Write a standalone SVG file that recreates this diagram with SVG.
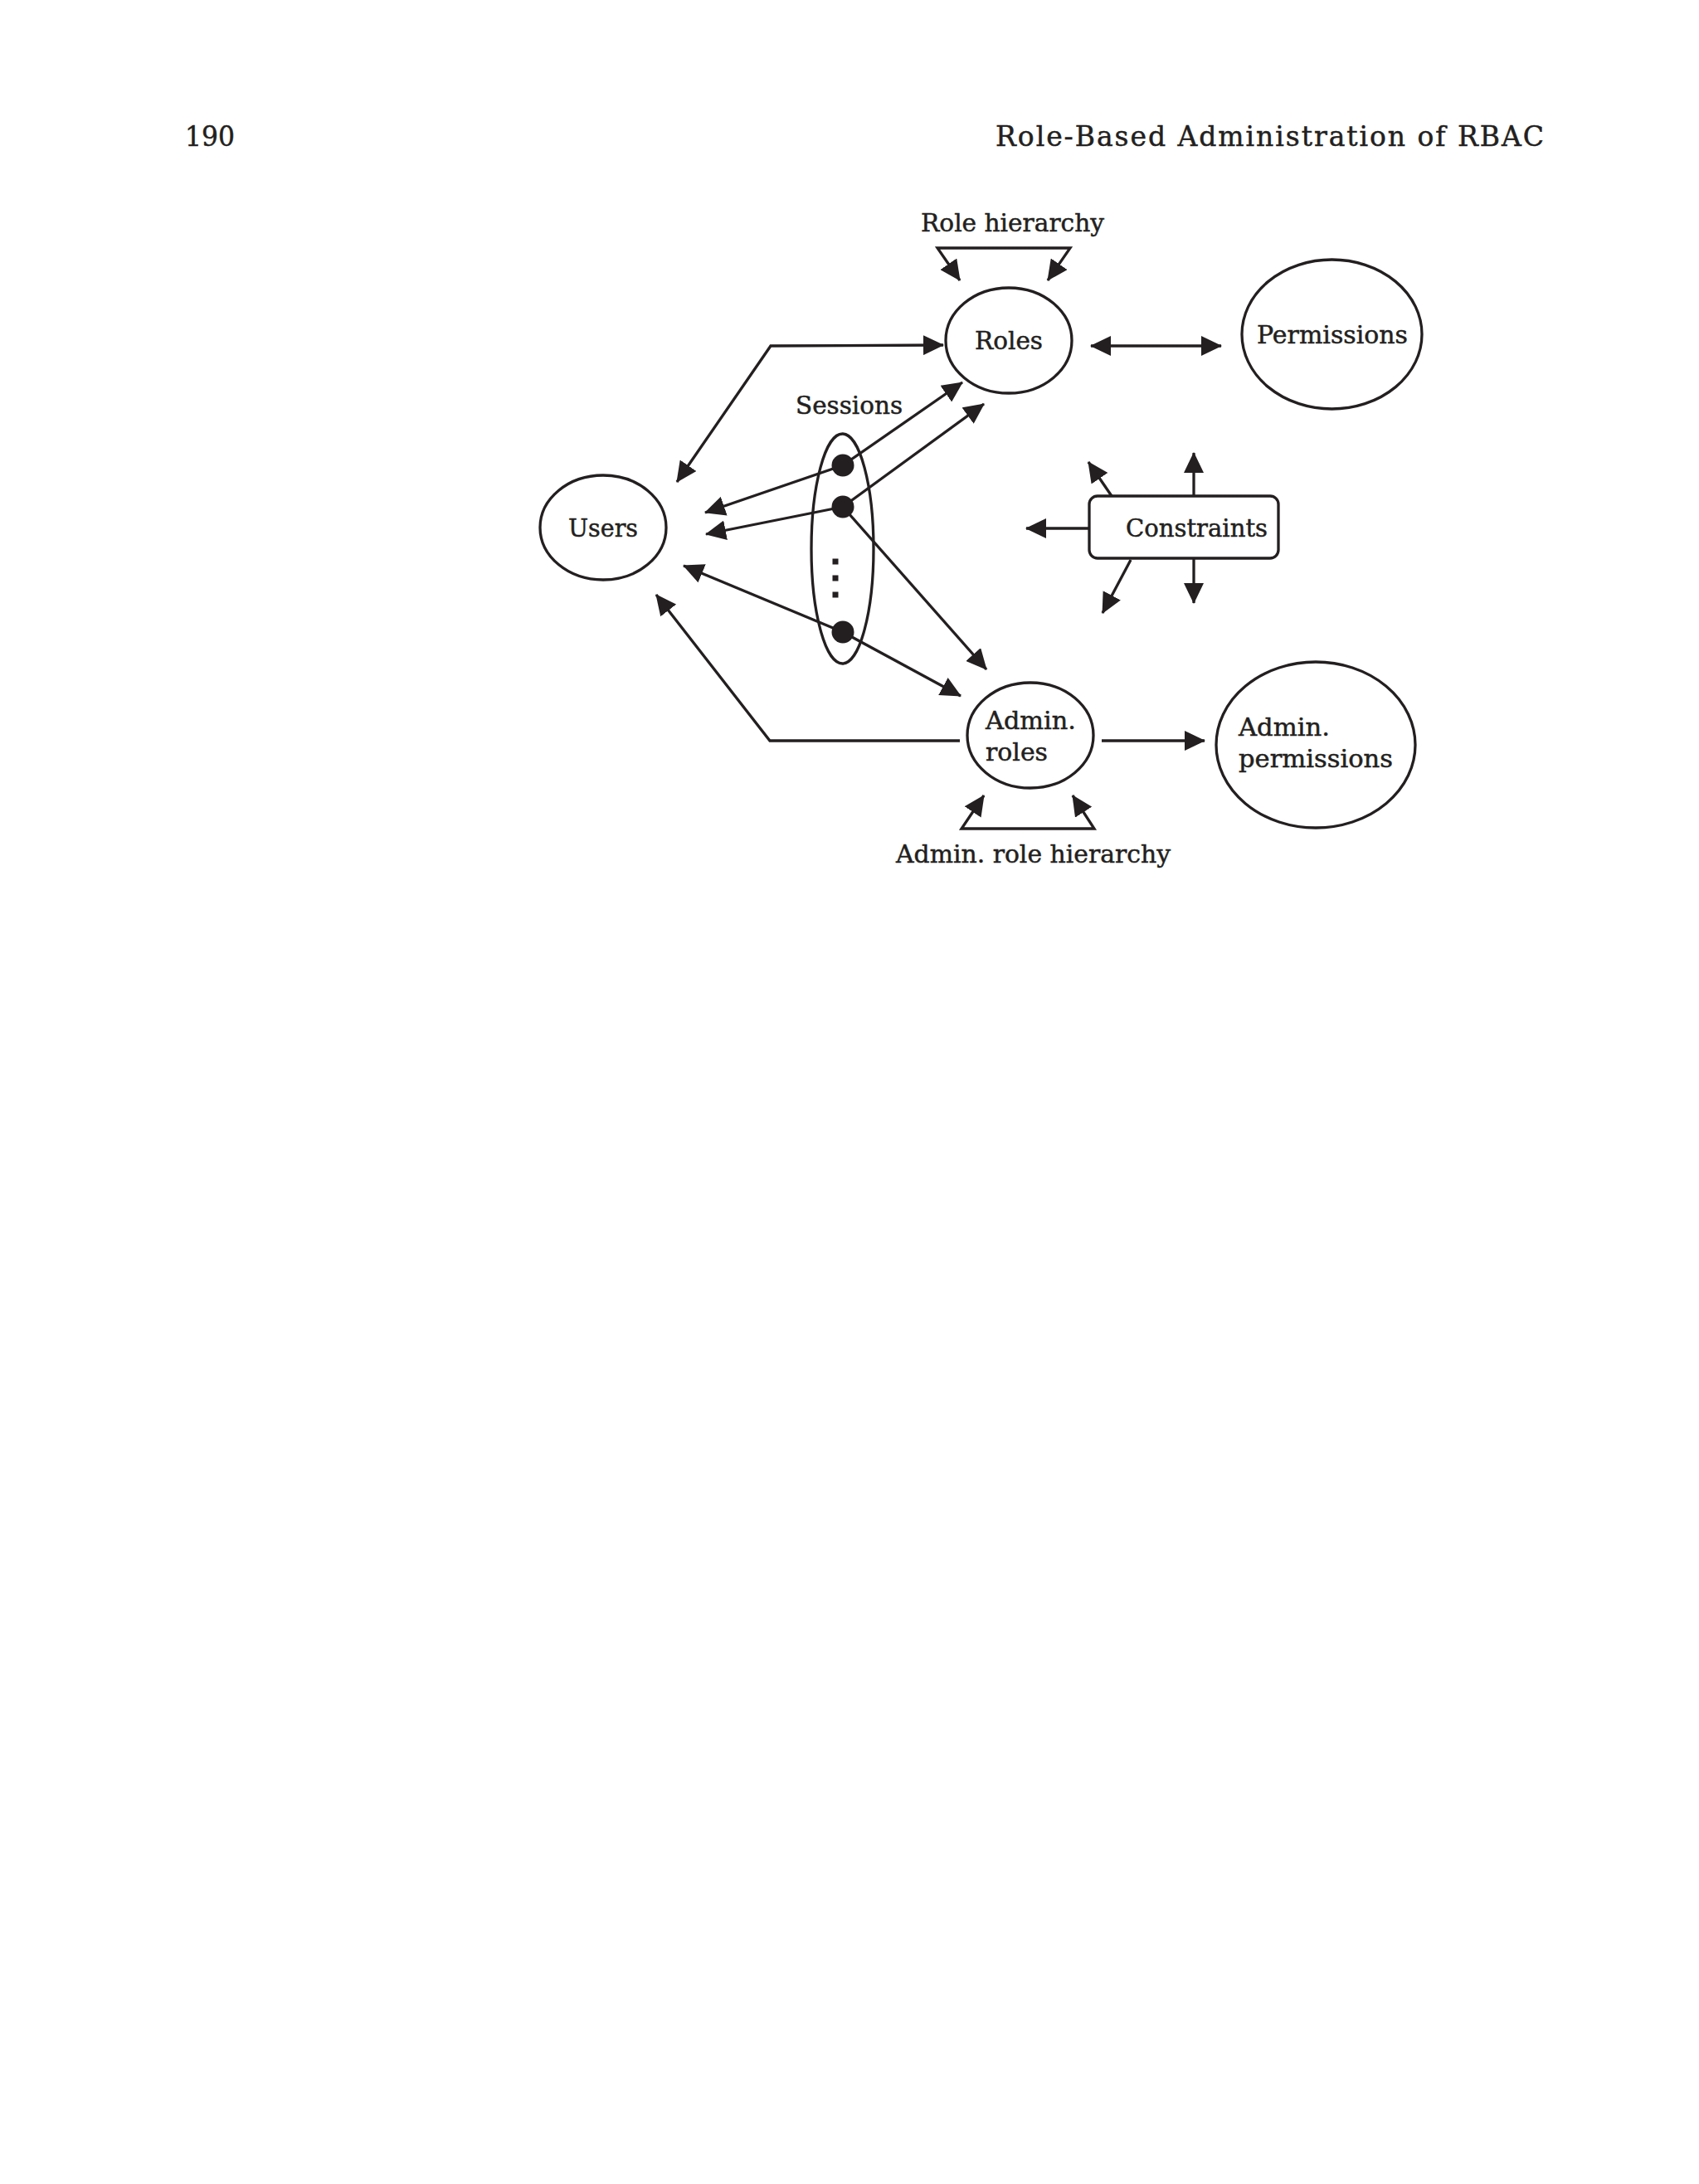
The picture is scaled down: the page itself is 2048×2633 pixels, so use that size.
<svg xmlns="http://www.w3.org/2000/svg" width="2048" height="2633" viewBox="0 0 2048 2633">
<style>
  text { font-family: "DejaVu Serif", "Liberation Serif", serif; fill: #231f20; stroke: #231f20; stroke-width: 0.5; }
  .lbl { font-size: 29px; }
  .hdr { font-size: 33px; }
  .shape { fill: none; stroke: #231f20; stroke-width: 3.3; }
  .conn { fill: none; stroke: #231f20; stroke-width: 3.3; stroke-linejoin: miter; }
  .dot { fill: #231f20; }
</style>
<defs>
  <marker id="ah" markerUnits="userSpaceOnUse" markerWidth="26" markerHeight="24" refX="24" refY="12" orient="auto-start-reverse">
    <path d="M0,0 L25,12 L0,24 z" fill="#231f20"/>
  </marker>
</defs>
<rect width="2048" height="2633" fill="#ffffff"/>

<g id="header">
  <text class="hdr" x="223" y="176" textLength="60" lengthAdjust="spacingAndGlyphs">190</text>
  <text class="hdr" x="1200" y="176" textLength="661" lengthAdjust="spacing">Role-Based Administration of RBAC</text>
</g>

<g id="connectors">
  <path class="conn" d="M816,581 L929,417 L1137,416" marker-start="url(#ah)" marker-end="url(#ah)"/>
  <path class="conn" d="M1315,417 L1472,417" marker-start="url(#ah)" marker-end="url(#ah)"/>
  <path class="conn" d="M1016,561 L1160,461" marker-end="url(#ah)"/>
  <path class="conn" d="M1016,611 L1186,487" marker-end="url(#ah)"/>
  <path class="conn" d="M1016,561 L850,618" marker-end="url(#ah)"/>
  <path class="conn" d="M1016,611 L851,644" marker-end="url(#ah)"/>
  <path class="conn" d="M1016,611 L1189,807" marker-end="url(#ah)"/>
  <path class="conn" d="M1016,762 L824,682" marker-end="url(#ah)"/>
  <path class="conn" d="M1016,762 L1158,839" marker-end="url(#ah)"/>
  <path class="conn" d="M1157,893 L928,893 L791,717" marker-end="url(#ah)"/>
  <path class="conn" d="M1328,893 L1452,893" marker-end="url(#ah)"/>
  <path class="conn" d="M1157,338 L1130,299 L1290,299 L1263,338" marker-start="url(#ah)" marker-end="url(#ah)"/>
  <path class="conn" d="M1186,959 L1159,999 L1319,999 L1293,959" marker-start="url(#ah)" marker-end="url(#ah)"/>
  <path class="conn" d="M1313,637 L1237,637" marker-end="url(#ah)"/>
  <path class="conn" d="M1340,598 L1312,557" marker-end="url(#ah)"/>
  <path class="conn" d="M1439,598 L1439,546" marker-end="url(#ah)"/>
  <path class="conn" d="M1439,673 L1439,727" marker-end="url(#ah)"/>
  <path class="conn" d="M1363,675 L1329,739" marker-end="url(#ah)"/>
</g>

<g id="users">
  <ellipse class="shape" cx="727" cy="636" rx="76" ry="63"/>
  <text class="lbl" x="685" y="647" textLength="84" lengthAdjust="spacingAndGlyphs">Users</text>
</g>

<g id="roles">
  <ellipse class="shape" cx="1216" cy="410.5" rx="76" ry="63.5"/>
  <text class="lbl" x="1175" y="421" textLength="82" lengthAdjust="spacingAndGlyphs">Roles</text>
</g>

<g id="role-hierarchy-label">
  <text class="lbl" x="1110" y="279" textLength="221" lengthAdjust="spacingAndGlyphs">Role hierarchy</text>
</g>

<g id="permissions">
  <ellipse class="shape" cx="1605.5" cy="403" rx="108.5" ry="90"/>
  <text class="lbl" x="1515" y="414" textLength="182" lengthAdjust="spacingAndGlyphs">Permissions</text>
</g>

<g id="sessions">
  <text class="lbl" x="959" y="499" textLength="129" lengthAdjust="spacingAndGlyphs">Sessions</text>
  <ellipse class="shape" cx="1015.5" cy="661.5" rx="37.5" ry="138.5"/>
  <circle class="dot" cx="1016" cy="561" r="13.5"/>
  <circle class="dot" cx="1016" cy="611" r="13.5"/>
  <circle class="dot" cx="1016" cy="762" r="13.5"/>
  <rect class="dot" x="1003.5" y="673.5" width="7" height="7"/>
  <rect class="dot" x="1003.5" y="693.5" width="7" height="7"/>
  <rect class="dot" x="1003.5" y="713.5" width="7" height="7"/>
</g>

<g id="constraints">
  <rect class="shape" x="1313" y="598" width="228" height="75" rx="10" ry="10"/>
  <text class="lbl" x="1357" y="647" textLength="171" lengthAdjust="spacingAndGlyphs">Constraints</text>
</g>

<g id="admin-roles">
  <ellipse class="shape" cx="1242" cy="886.5" rx="76" ry="63.5"/>
  <text class="lbl" x="1188" y="879" textLength="109" lengthAdjust="spacingAndGlyphs">Admin.</text>
  <text class="lbl" x="1188" y="917" textLength="75" lengthAdjust="spacingAndGlyphs">roles</text>
</g>

<g id="admin-permissions">
  <ellipse class="shape" cx="1586" cy="898" rx="120" ry="100"/>
  <text class="lbl" x="1493" y="887" textLength="110" lengthAdjust="spacingAndGlyphs">Admin.</text>
  <text class="lbl" x="1493" y="925" textLength="186" lengthAdjust="spacingAndGlyphs">permissions</text>
</g>

<g id="admin-role-hierarchy-label">
  <text class="lbl" x="1080" y="1040" textLength="331" lengthAdjust="spacingAndGlyphs">Admin. role hierarchy</text>
</g>
</svg>
